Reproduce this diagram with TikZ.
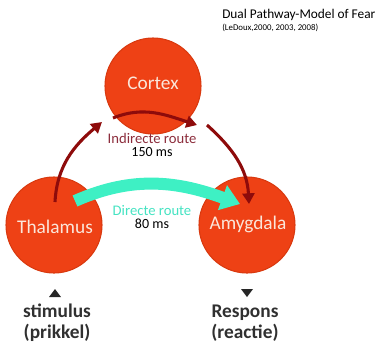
\documentclass[tikz,border=0pt]{standalone}
\usepackage{fontspec}
\setmainfont{Carlito}
\usetikzlibrary{arrows.meta,positioning}
\definecolor{NodeRed}{HTML}{EE4115}
\definecolor{NodeEdge}{HTML}{D9390F}
\definecolor{NodeText}{HTML}{FBE6DA}
\definecolor{RouteRed}{HTML}{8E0B0B}
\definecolor{RouteTeal}{HTML}{3EF0C4}
\definecolor{LabelIndirect}{HTML}{8C2D3C}
\definecolor{LabelDirect}{HTML}{45E3C2}
\definecolor{IoText}{HTML}{303030}
\tikzset{
  brain/.style={circle,fill=NodeRed,draw=NodeEdge,line width=0.8pt,
    minimum size=72pt,inner sep=0pt},
  brainlabel/.style={text=NodeText,font=\fontsize{14.5}{16}\selectfont,inner sep=0pt},
  slowpath/.style={draw=RouteRed,line width=2.3pt,
    -{Triangle[length=8pt,width=9pt]}},
  fastpath/.style={draw=RouteTeal,line width=9pt,
    -{Triangle[length=14pt,width=19pt]}},
  routelabel/.style={font=\fontsize{11}{12}\selectfont,inner sep=0pt},
  timelabel/.style={font=\fontsize{10.5}{12}\selectfont,inner sep=0pt},
  iolabel/.style={text=IoText,font=\bfseries\fontsize{14.5}{15.75}\selectfont,
    align=center,inner sep=0pt}
}
\begin{document}
\begin{tikzpicture}[x=0.75pt,y=0.75pt]
    \useasboundingbox (0,0) rectangle (386,-347);

    % title
    \node[anchor=west,inner sep=0pt,font=\fontsize{10}{12}\selectfont]
      (Title) at (222,-15) {Dual Pathway-Model of Fear};
    \node[anchor=west,inner sep=0pt,font=\fontsize{6.6}{8}\selectfont]
      (Source) at (222,-28) {(LeDoux,2000, 2003, 2008)};

    % the three regions
    \node[brain] (Cortex)   at (153,-86)  {};
    \node[brain] (Thalamus) at (54,-225)  {};
    \node[brain] (Amygdala) at (247,-225) {};
    \node[brainlabel] (CortexText)   at (153,-83)  {Cortex};
    \node[brainlabel] (ThalamusText) at (55,-227)  {Thalamus};
    \node[brainlabel] (AmygdalaText) at (248,-224) {Amygdala};

    % end points of the routes
    \coordinate (ThalUp)   at ([shift={(1,23)}]Thalamus.center);
    \coordinate (CtxIn)    at ([shift={(-51,-36)}]Cortex.center);
    \coordinate (CtxLeft)  at ([shift={(-40,-32)}]Cortex.center);
    \coordinate (CtxRight) at ([shift={(44,-39)}]Cortex.center);
    \coordinate (CtxOut)   at ([shift={(54,-39)}]Cortex.center);
    \coordinate (AmyTop)   at ([shift={(2,21)}]Amygdala.center);
    \coordinate (ThalSide) at ([shift={(21,24)}]Thalamus.center);
    \coordinate (AmySide)  at ([shift={(-7,21)}]Amygdala.center);

    % indirect route via the cortex
    \draw[slowpath] (ThalUp) to[out=87,in=-140] (CtxIn);
    \draw[slowpath] (CtxLeft) to[out=22,in=162] (CtxRight);
    \draw[slowpath] (CtxOut) to[out=-42,in=93] (AmyTop);

    % direct route
    \draw[fastpath] (ThalSide) to[out=24,in=160] (AmySide);

    \node[routelabel,text=LabelIndirect] (IndirectText) at (152,-138) {Indirecte route};
    \node[timelabel,below=3pt of IndirectText] (SlowTime) {150 ms};
    \node[routelabel,text=LabelDirect] (DirectText) at (152,-211) {Directe route};
    \node[timelabel,below=2pt of DirectText] (FastTime) {80 ms};

    % input and output
    \coordinate (StimMark) at (55,-293);
    \coordinate (RespMark) at (247,-293);
    \fill[black!85] ([shift={(-6,-4)}]StimMark) -- ([shift={(6,-4)}]StimMark)
      -- ([shift={(0,4)}]StimMark) -- cycle;
    \fill[black!85] ([shift={(-6,4)}]RespMark) -- ([shift={(6,4)}]RespMark)
      -- ([shift={(0,-4)}]RespMark) -- cycle;
    \node[iolabel] (Stimulus) at (57,-323) {stimulus\\(prikkel)};
    \node[iolabel] (Respons)  at (245,-323) {Respons\\(reactie)};
  \end{tikzpicture}
\end{document}
